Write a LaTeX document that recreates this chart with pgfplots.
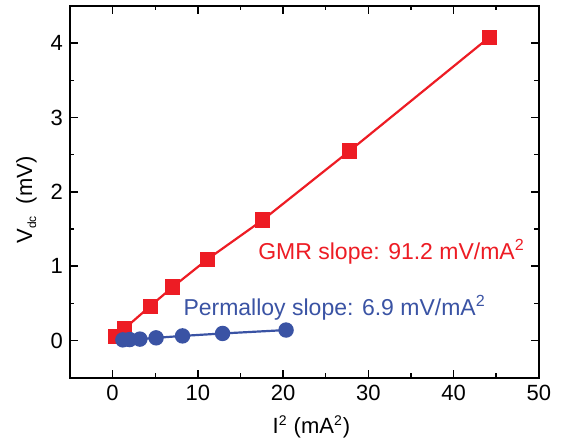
\documentclass[border=0pt]{standalone}
\usepackage{pgfplots}
\pgfplotsset{compat=1.18}
\usepackage{fontspec}
\setmainfont{Liberation Sans}
\definecolor{gmrred}{RGB}{237,28,36}
\definecolor{pyblue}{RGB}{58,83,164}
\begin{document}
\begin{tikzpicture}
% fixed page: 562x446 px at 0.5pt per px, axis box from (70,6) to (538.7,377.7)
\useasboundingbox (-35pt,-34.15pt) rectangle (246pt,188.8pt);
\begin{axis}[
  at={(0,0)}, anchor=south west,
  scale only axis,
  width=234.4pt, height=185.8pt,
  xmin=-5, xmax=50, ymin=-0.5, ymax=4.5,
  xtick={0,10,...,50}, ytick={0,1,...,4},
  minor x tick num=1, minor y tick num=1,
  tick align=inside,
  major tick length=3.8pt, minor tick length=2.2pt,
  axis line style={line width=0.9pt},
  every tick/.style={line width=0.7pt, black},
  ticklabel style={font=\fontsize{11}{13}\selectfont},
  /pgf/number format/assume math mode=true,
  label style={font=\fontsize{11}{13}\selectfont},
  xlabel={I\textsuperscript{\fontsize{7}{8}\selectfont 2} (mA\textsuperscript{\fontsize{7}{8}\selectfont 2})},
  ylabel={V\raisebox{-0.35ex}{\fontsize{6}{7}\selectfont dc}\ \ (mV)},
  xlabel style={at={(axis description cs:0.515,0)}, anchor=center, yshift=-24.6pt},
  ylabel style={at={(axis description cs:-0.093,0.478)}, anchor=center},
]
\addplot[color=gmrred, line width=1.1pt, mark=square*, mark size=3.25pt] coordinates {
(0.3,0.05) (1.4,0.16) (4.4,0.46) (7.06,0.72) (11.1,1.09) (17.6,1.62) (27.8,2.55) (44.2,4.08)
};
\addplot[color=pyblue, line width=1.1pt, mark=*, mark size=3.3pt] coordinates {
(1.2,0.008) (2.0,0.012) (3.2,0.018) (5.1,0.035) (8.2,0.061) (12.9,0.094) (20.35,0.14)
};
\node[anchor=base west, text=gmrred, font=\fontsize{11.5}{13}\selectfont, inner sep=0pt] at (axis cs:17.05,1.09) {GMR slope: 91.2 mV/mA\textsuperscript{2}};
\node[anchor=base west, text=pyblue, font=\fontsize{11.5}{13}\selectfont, inner sep=0pt] at (axis cs:8.27,0.336) {Permalloy slope: 6.9 mV/mA\textsuperscript{2}};
\end{axis}
\end{tikzpicture}
\end{document}
